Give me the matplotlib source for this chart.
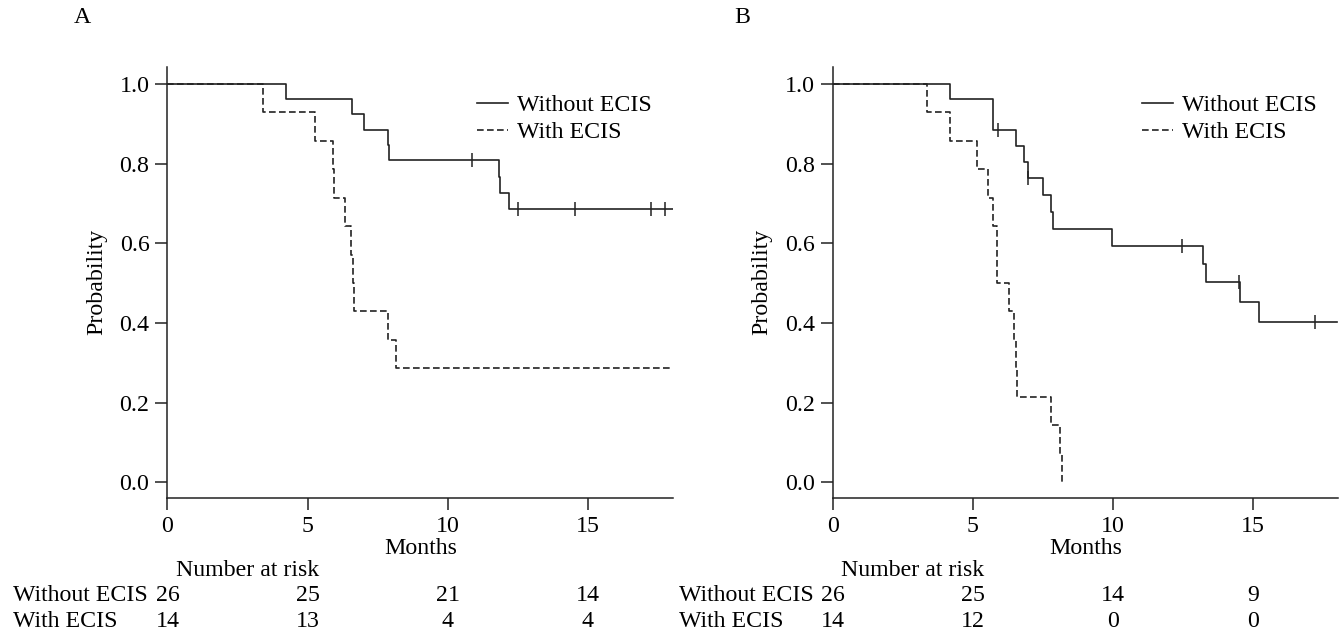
import matplotlib
matplotlib.use('Agg')
import matplotlib.pyplot as plt
import numpy as np

# serif font like the original figure
plt.rcParams['font.family'] = ['Liberation Serif', 'DejaVu Serif']
plt.rcParams['font.size'] = 17.2

INK = '#222222'

# ---- panel A : step times / survival ----
a_wo_t = [0, 4.24, 6.6, 7.01, 7.88, 7.9, 11.83, 11.87, 12.19]
a_wo_s = [1.0, 0.962, 0.923, 0.885, 0.846, 0.808, 0.767, 0.727, 0.687]
a_wo_end = 18.05
a_wo_cens = [10.88, 12.5, 14.54, 17.27, 17.77]

a_w_t = [0, 3.40, 5.25, 5.90, 5.95, 6.33, 6.55, 6.62, 6.66, 7.86, 8.16]
a_w_s = [1.0, 0.929, 0.857, 0.786, 0.714, 0.643, 0.571, 0.500, 0.429, 0.357, 0.286]
a_w_end = 18.0
a_w_cens = []

# ---- panel B ----
b_wo_t = [0, 4.18, 5.70, 5.72, 6.52, 6.84, 6.96, 7.50, 7.80, 7.85, 9.95,
          13.23, 13.33, 14.53, 15.2]
b_wo_s = [1.0, 0.962, 0.923, 0.885, 0.844, 0.804, 0.764, 0.722, 0.679, 0.637,
          0.594, 0.548, 0.503, 0.453, 0.402]
b_wo_end = 18.0
b_wo_cens = [5.88, 6.96, 12.45, 14.5, 17.2]

b_w_t = [0, 3.37, 4.18, 5.15, 5.52, 5.73, 5.85, 5.87, 6.29, 6.48, 6.54, 6.57,
         7.79, 8.11, 8.18]
b_w_s = [1.0, 0.929, 0.857, 0.786, 0.714, 0.643, 0.571, 0.500, 0.429, 0.357,
         0.286, 0.214, 0.143, 0.071, 0.0]
b_w_end = 8.18
b_w_cens = []

# number at risk table
risk_times = [0, 5, 10, 15]
a_risk_wo = [26, 25, 21, 14]
a_risk_w = [14, 13, 4, 4]
b_risk_wo = [26, 25, 14, 9]
b_risk_w = [14, 12, 0, 0]

groups = ['Without ECIS', 'With ECIS']
xticks = [0, 5, 10, 15]
yticks = [0.0, 0.2, 0.4, 0.6, 0.8, 1.0]


# draw one km curve with censor ticks
def km(ax, t, s, end, cens, ls, label):
    xs = list(t) + [end]
    ys = list(s) + [s[-1]]
    ax.step(xs, ys, where='post', color=INK, lw=1.2, linestyle=ls, label=label)
    if cens:
        idx = np.searchsorted(t, cens, side='right') - 1
        cy = np.array(s)[idx]
        ax.plot(cens, cy, linestyle='none', marker='|', ms=10, mew=1.1, color=INK)


def panel(ax, curves, risk_wo, risk_w):
    km(ax, *curves[0], '-', groups[0])
    km(ax, *curves[1], (0, (4, 2)), groups[1])

    ax.set_xlim(0, 18.05)
    ax.set_ylim(-0.039, 1.043)
    ax.set_xticks(xticks)
    ax.set_yticks(yticks)
    ax.set_yticklabels(['%.1f' % v for v in yticks])
    for sp in ['top', 'right']:
        ax.spines[sp].set_visible(False)
    for sp in ['left', 'bottom']:
        ax.spines[sp].set_color(INK)
        ax.spines[sp].set_linewidth(1.1)
    ax.tick_params(direction='out', length=8.5, width=1.1, color=INK, pad=4.5)
    ax.set_xlabel('Months', labelpad=0.5)
    ax.set_ylabel('Probability', labelpad=9)

    ax.legend(loc='upper left', bbox_to_anchor=(0.612, 0.935), frameon=False,
              handlelength=1.3, handletextpad=0.38, labelspacing=0.2,
              borderpad=0, borderaxespad=0)

    # number at risk below the axis
    tr = ax.get_xaxis_transform()
    ax.text(0.3, -0.169, 'Number at risk', transform=tr, ha='left', va='center')
    ax.text(-5.5, -0.227, groups[0], transform=tr, ha='left', va='center')
    ax.text(-5.5, -0.2875, groups[1], transform=tr, ha='left', va='center')
    for x, n1, n2 in zip(risk_times, risk_wo, risk_w):
        ax.text(x, -0.227, str(n1), transform=tr, ha='center', va='center')
        ax.text(x, -0.2875, str(n2), transform=tr, ha='center', va='center')


fig = plt.figure(figsize=(13.43, 6.36), dpi=100)
ax1 = fig.add_axes([0.1247, 0.2170, 0.3764, 0.6782])
ax2 = fig.add_axes([0.6202, 0.2170, 0.3764, 0.6782])

panel(ax1, [(a_wo_t, a_wo_s, a_wo_end, a_wo_cens),
            (a_w_t, a_w_s, a_w_end, a_w_cens)], a_risk_wo, a_risk_w)
panel(ax2, [(b_wo_t, b_wo_s, b_wo_end, b_wo_cens),
            (b_w_t, b_w_s, b_w_end, b_w_cens)], b_risk_wo, b_risk_w)

fig.text(0.061, 0.9717, 'A', ha='center', va='center')
fig.text(0.553, 0.9717, 'B', ha='center', va='center')

fig.savefig('out.png', dpi=100)
